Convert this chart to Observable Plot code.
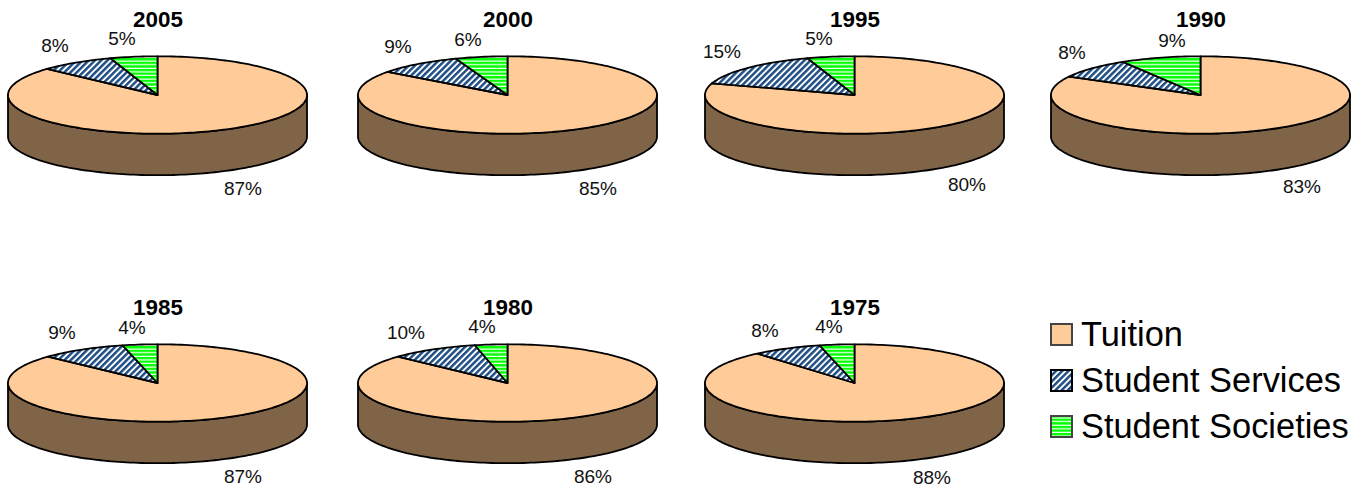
<!DOCTYPE html>
<html>
<head>
<meta charset="utf-8">
<style>
  html, body { margin: 0; padding: 0; background: #fff; }
  #chart { position: relative; width: 1364px; height: 488px; overflow: hidden; font-family: "Liberation Sans", Arial, sans-serif; }
  .legend-row { position: absolute; left: 1050px; display: flex; align-items: center; font-size: 34.4px; line-height: 40px; color: #000; white-space: nowrap; }
  .legend-row svg { display: block; margin-right: 8px; }
</style>
<script src="https://cdn.jsdelivr.net/npm/d3@7"></script>
<script src="https://cdn.jsdelivr.net/npm/@observablehq/plot@0.6"></script>
</head>
<body>
<div id="chart"></div>
<script>
// Data: printed labels
const years = [2005, 2000, 1995, 1990, 1985, 1980, 1975];
const tuition = [87, 85, 80, 83, 87, 86, 88];
const services = [8, 9, 15, 8, 9, 10, 8];
const societies = [5, 6, 5, 9, 4, 4, 4];
const legendNames = ["Tuition", "Student Services", "Student Societies"];
// Slice sizes as drawn (percent), read from the slice edges
const servicesDrawn = [8.15, 9.2, 15, 8.4, 9.35, 9.6, 7.5];
const societiesDrawn = [5.1, 5.6, 5.1, 8.7, 3.75, 3.5, 3.75];

// Layout
const centerX = [157, 507, 854, 1200, 157, 507, 854];
const centerY = [95, 95, 95, 95, 383, 383, 383];
const servicesLabel = [[-103, -49], [-110, -48], [-133, -43], [-129, -42], [-96, -50], [-102, -50], [-90, -52]];
const societiesLabel = [[-36, -56], [-40, -55], [-36, -56], [-29, -54], [-26, -55], [-26, -56], [-26, -56]];
const tuitionLabel = [[85, 94], [90, 94], [112, 90], [101, 92], [85, 94], [85, 94], [77, 95]];
const rx = 149.5, ry = 38.7, depth = 41.5, pieShift = -0.5;
const textShiftX = 0.5, textShiftY = -1;
const panelW = 320, panelH = 200, panelTop = 95;
const colors = { tuition: "#FFCC99", wall: "#806448" };
const fills = [colors.tuition, "url(#hatch)", "url(#stripes)"];

function point(share, offset = 0) {
  const a = 2 * Math.PI * share;
  return { x: -rx * Math.sin(a), y: -ry * Math.cos(a) + offset + pieShift };
}
function arc(from, to, offset = 0) {
  const n = Math.max(2, Math.ceil(Math.abs(to - from) * 240));
  return d3.range(n + 1).map((i) => point(from + (to - from) * i / n, offset));
}
function slice(from, to) {
  const o = { x: 0, y: pieShift };
  return [o, ...arc(from, to), o];
}
function wall() {
  const front = arc(0.25, 0.75, 0).reverse();
  const lower = arc(0.25, 0.75, depth);
  return [...front, ...lower, front[0]];
}

function patterns() {
  const defs = d3.create("svg:defs");
  const hatch = defs.append("pattern").attr("id", "hatch").attr("patternUnits", "userSpaceOnUse")
    .attr("width", 4.4).attr("height", 4.4).attr("patternTransform", "rotate(-45)");
  hatch.append("rect").attr("width", 4.4).attr("height", 4.4).attr("fill", "#ffffff");
  hatch.append("rect").attr("width", 4.4).attr("height", 2.5).attr("fill", "#1F4E85");
  const stripes = defs.append("pattern").attr("id", "stripes").attr("patternUnits", "userSpaceOnUse")
    .attr("width", 3.6).attr("height", 3.6);
  stripes.append("rect").attr("width", 3.6).attr("height", 3.6).attr("fill", "#ffffff");
  stripes.append("rect").attr("width", 3.6).attr("height", 2.4).attr("fill", "#00FF00");
  return defs.node();
}

const chart = document.getElementById("chart");
const holder = document.createElementNS("http://www.w3.org/2000/svg", "svg");
holder.setAttribute("width", 0); holder.setAttribute("height", 0);
holder.style.position = "absolute";
holder.appendChild(patterns());
chart.appendChild(holder);

const line = (data, fill) => Plot.line(data, {
  x: "x", y: "y", fill, stroke: "#000", strokeWidth: 1.8, strokeLinejoin: "round", curve: "linear"
});
const text = (x, y, label, extra = {}) => Plot.text([label], {
  x: () => x + textShiftX, y: () => y + textShiftY, text: (d) => d, fontSize: 19, fill: "#111", textAnchor: "middle", lineAnchor: "middle", ...extra
});

years.forEach((year, i) => {
  const soc = societiesDrawn[i] / 100;
  const ser = servicesDrawn[i] / 100;
  const svg = Plot.plot({
    width: panelW, height: panelH,
    marginTop: 0, marginRight: 0, marginBottom: 0, marginLeft: 0,
    x: { domain: [-panelW / 2, panelW / 2], range: [0, panelW], axis: null },
    y: { domain: [-panelTop, panelH - panelTop], range: [0, panelH], axis: null },
    style: { background: "transparent", overflow: "visible", fontFamily: '"Liberation Sans", Arial, sans-serif' },
    marks: [
      line(wall(), colors.wall),
      line(slice(soc + ser, 1), fills[0]),
      line(slice(soc, soc + ser), fills[1]),
      line(slice(0, soc), fills[2]),
      text(0, -75, String(year), { fontSize: 22.4, fontWeight: "bold", fill: "#000" }),
      text(servicesLabel[i][0], servicesLabel[i][1], services[i] + "%"),
      text(societiesLabel[i][0], societiesLabel[i][1], societies[i] + "%"),
      text(tuitionLabel[i][0], tuitionLabel[i][1], tuition[i] + "%")
    ]
  });
  svg.style.position = "absolute";
  svg.style.left = (centerX[i] - panelW / 2) + "px";
  svg.style.top = (centerY[i] - panelTop) + "px";
  chart.appendChild(svg);
});

// Legend
const rowTops = [314, 360, 406];
const swatchStroke = ["#444", "#000", "#444"];
legendNames.forEach((name, i) => {
  const row = document.createElement("div");
  row.className = "legend-row";
  row.style.top = rowTops[i] + "px";
  row.innerHTML = `<svg width="23" height="23"><rect x="1" y="1" width="21" height="21" fill="${fills[i]}" stroke="${swatchStroke[i]}" stroke-width="2"></rect></svg><span>${name}</span>`;
  chart.appendChild(row);
});
</script>
</body>
</html>
